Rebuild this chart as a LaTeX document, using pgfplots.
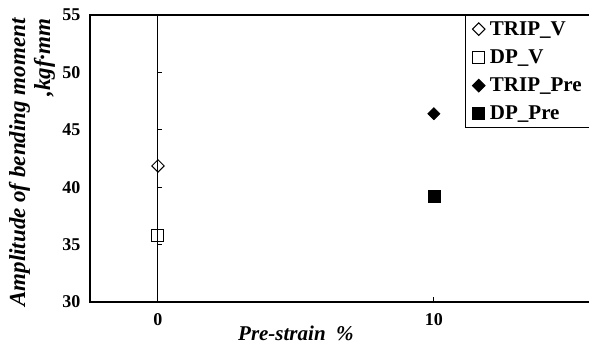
\documentclass[border=0pt]{standalone}
\usepackage{fontspec}
\setmainfont{Liberation Serif}
\usepackage{pgfplots}
\pgfplotsset{compat=1.18}
\begin{document}
\begin{tikzpicture}
\begin{axis}[
  scale only axis, width=520pt, height=287pt,
  xmin=-2.464, xmax=16.38, ymin=30, ymax=55,
  xtick={0,10}, xtick pos=bottom, xtick align=inside, major tick length=5pt,
  ytick={30,35,40,45,50,55}, ytick pos=left, ytick style={draw=none},
  tick label style={font=\fontsize{18}{18}\selectfont\bfseries},
  xticklabel style={yshift=-8pt},
  yticklabel style={xshift=-6pt},
  /pgf/number format/assume math mode=true,
  axis line style={line width=1.4pt},
  xtick style={line width=1pt, black},
  clip=false,
  xlabel={Pre-strain\ \ \%},
  xlabel style={font=\fontsize{21}{21}\selectfont\bfseries\itshape, at={(rel axis cs:0.396,0)}, anchor=base, yshift=-39pt},
  ylabel={Amplitude of bending moment\\,kgf·mm},
  ylabel style={font=\fontsize{23}{25}\selectfont\bfseries\itshape, align=right, at={(rel axis cs:-0.1115,1)}, anchor=east},
  legend style={at={(rel axis cs:0.7212,1)}, anchor=north west, draw=black, line width=1pt,
    font=\fontsize{21}{21}\selectfont\bfseries, row sep=9pt, column sep=3pt, inner xsep=7pt, inner ysep=4pt},
  legend cell align=left,
]
\draw[line width=1pt] (axis cs:0,30) -- (axis cs:0,55);
\draw[line width=1pt] (axis cs:0,35) -- ([xshift=4pt]axis cs:0,35);
\draw[line width=1pt] (axis cs:0,40) -- ([xshift=4pt]axis cs:0,40);
\draw[line width=1pt] (axis cs:0,45) -- ([xshift=4pt]axis cs:0,45);
\draw[line width=1pt] (axis cs:0,50) -- ([xshift=4pt]axis cs:0,50);
\addplot[only marks, mark=square, mark size=4.4pt, mark options={rotate=45, fill=white, draw=black, line width=1pt}] coordinates {(0,41.85)};
\addlegendentry{TRIP\_V}
\addplot[only marks, mark=square, mark size=6pt, mark options={fill=white, draw=black, line width=1pt}] coordinates {(0,35.75)};
\addlegendentry{DP\_V}
\addplot[only marks, mark=square*, mark size=4.4pt, mark options={rotate=45, fill=black, draw=black}] coordinates {(10,46.4)};
\addlegendentry{TRIP\_Pre}
\addplot[only marks, mark=square*, mark size=6pt, mark options={fill=black, draw=black}] coordinates {(10,39.2)};
\addlegendentry{DP\_Pre}
\end{axis}
\pgfresetboundingbox
\path[use as bounding box] (-90pt,-43pt) rectangle (499pt,302pt);
\end{tikzpicture}
\end{document}
